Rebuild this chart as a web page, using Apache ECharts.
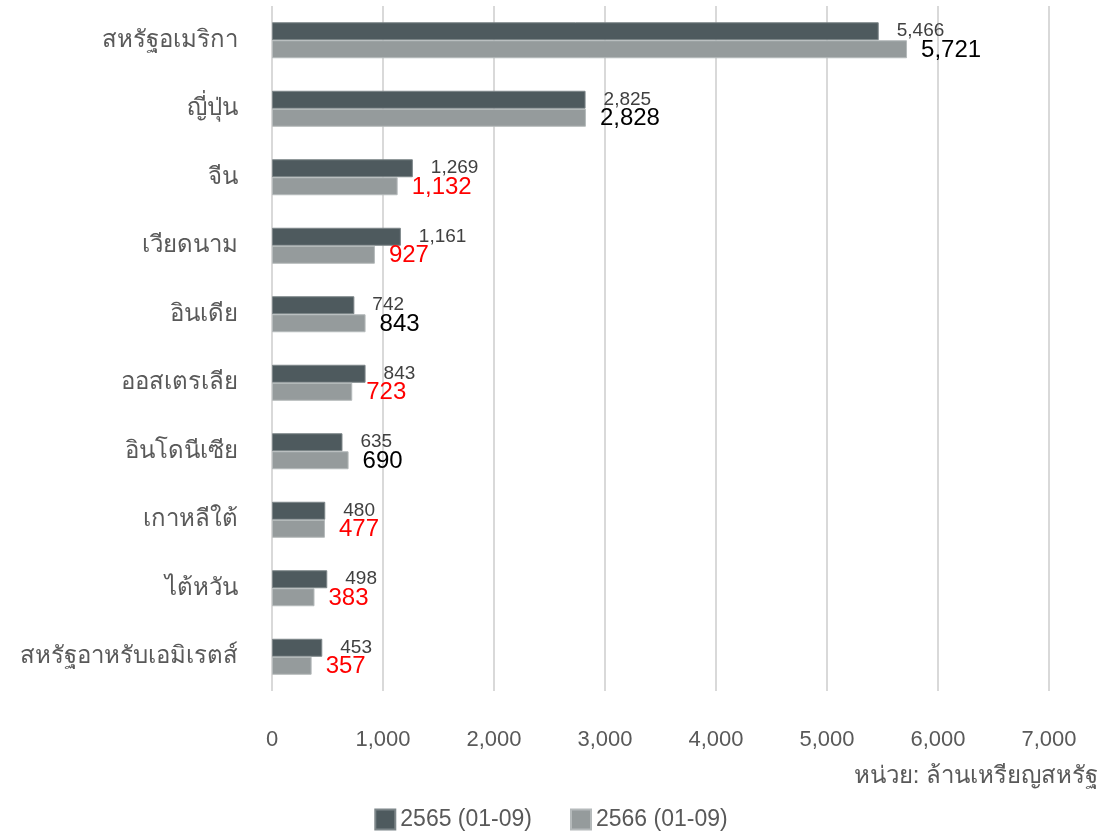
<!DOCTYPE html>
<html><head><meta charset="utf-8">
<script src="https://cdn.jsdelivr.net/npm/echarts@6/dist/echarts.min.js"></script>
<style>html,body{margin:0;padding:0;background:#fff}#c{width:1102px;height:838px}</style>
</head><body><div id="c"></div>
<script>
const categories = ['สหรัฐอเมริกา','ญี่ปุ่น','จีน','เวียดนาม','อินเดีย','ออสเตรเลีย','อินโดนีเซีย','เกาหลีใต้','ไต้หวัน','สหรัฐอาหรับเอมิเรตส์'];
const seriesNames = ['2565 (01-09)','2566 (01-09)'];
const values2565 = [5466,2825,1269,1161,742,843,635,480,498,453];
const values2566 = [5721,2828,1132,927,843,723,690,477,383,357];
const unitText = 'หน่วย: ล้านเหรียญสหรัฐ';

const FONT = "'Liberation Sans', Arial, sans-serif";
const fmt = v => v.toLocaleString('en-US');
const chart = echarts.init(document.getElementById('c'));
chart.setOption({
  animation:false,
  textStyle:{fontFamily:FONT},
  grid:{left:272,right:53,top:6,bottom:147,containLabel:false},
  legend:{bottom:2,left:'center',itemWidth:20,itemHeight:20,itemGap:38,icon:'rect',
    textStyle:{fontSize:23,color:'#595959',fontFamily:FONT},data:seriesNames},
  graphic:[{type:'text',right:4,top:764,style:{text:unitText,fontSize:24,fill:'#595959',fontFamily:FONT}}],
  xAxis:{type:'value',min:0,max:7000,interval:1000,
    axisLabel:{formatter:v=>fmt(v),fontSize:22,color:'#595959',margin:38},
    splitLine:{lineStyle:{color:'#d9d9d9',width:2}},axisLine:{show:false},axisTick:{show:false}},
  yAxis:{type:'category',inverse:true,data:categories,
    axisLabel:{fontSize:24,color:'#595959',margin:34},
    axisLine:{show:false},axisTick:{show:false}},
  series:[
    {name:seriesNames[0],type:'bar',data:values2565,barWidth:18,barGap:'0%',barCategoryGap:'47%',
      itemStyle:{color:'#4e5a5e',borderColor:'#7d8689',borderWidth:1},
      label:{show:true,position:'right',distance:18,offset:[0,0],fontSize:19,color:'#404040',
        formatter:p=>fmt(p.value)}},
    {name:seriesNames[1],type:'bar',barWidth:18,
      data:values2566.map((v,i)=>({value:v,label:{color: v < values2565[i] ? '#ff0000' : '#000000'}})),
      itemStyle:{color:'#959b9c',borderColor:'#b5babb',borderWidth:1},
      label:{show:true,position:'right',distance:14,offset:[0,1],fontSize:24,
        formatter:p=>fmt(p.value)}}
  ]
});
</script></body></html>
